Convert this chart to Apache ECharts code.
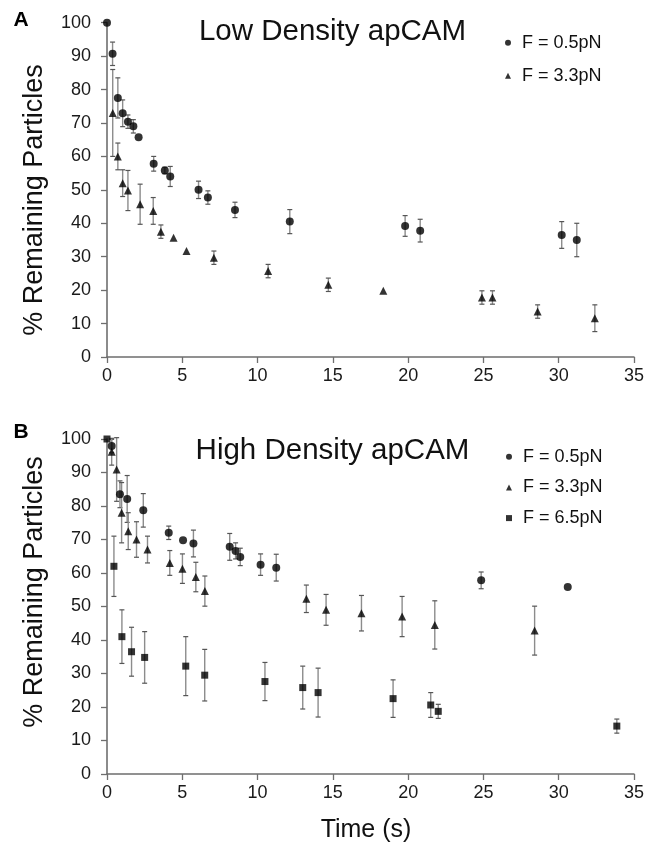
<!DOCTYPE html>
<html>
<head>
<meta charset="utf-8">
<script src="https://cdn.jsdelivr.net/npm/echarts@6/dist/echarts.min.js"></script>
<style>
  html, body { margin: 0; padding: 0; background: #fff; }
  #chart { width: 647px; height: 852px; }
</style>
</head>
<body>
<div id="chart"></div>
<script>
// Panel A - low density apCAM
const aLowT = [0, 0.37, 0.72, 1.04, 1.39, 1.75, 2.1, 3.1, 3.84, 4.2, 6.08, 6.7, 8.5, 12.14, 19.8, 20.8, 30.2, 31.2];
const aLowV = [100, 90.7, 77.5, 72.9, 70.4, 69, 65.7, 57.8, 55.8, 54, 50, 47.7, 44, 40.5, 39.2, 37.8, 36.5, 35];
const aLowE = [0, 3.5, 6, 4, 2, 2, 0, 2.2, 1, 3, 2.6, 2, 2.3, 3.6, 3.1, 3.4, 4, 5];

const aMidT = [0.38, 0.72, 1.04, 1.39, 2.2, 3.07, 3.58, 4.42, 5.28, 7.1, 10.7, 14.7, 18.35, 24.9, 25.6, 28.6, 32.4];
const aMidV = [73, 60, 52, 49.8, 45.7, 43.7, 37.5, 35.7, 31.7, 29.7, 25.7, 21.6, 19.8, 17.8, 17.8, 13.6, 11.6];
const aMidE = [13, 4, 4, 6, 6, 4, 2, 0, 0, 2, 2, 2, 0, 2, 2, 2, 4];

// Panel B - high density apCAM
const bLowT = [0.31, 0.86, 1.34, 2.41, 4.1, 5.05, 5.74, 8.15, 8.54, 8.85, 10.2, 11.24, 24.85, 30.6];
const bLowV = [97.9, 83.5, 82.1, 78.7, 72, 69.8, 68.8, 67.8, 66.6, 64.8, 62.5, 61.6, 57.8, 55.8];
const bLowE = [2, 4, 7, 5, 2, 0, 4, 4, 2.4, 2.6, 3.2, 4, 2.5, 0];

const bMidT = [0.31, 0.64, 0.97, 1.41, 1.96, 2.69, 4.17, 5.01, 5.9, 6.5, 13.24, 14.55, 16.9, 19.6, 21.77, 28.4];
const bMidV = [96.2, 90.9, 78, 72.5, 70, 67, 63, 61.3, 58.8, 54.6, 52.3, 49, 48, 47, 44.5, 42.8];
const bMidE = [4, 9.5, 9, 5.5, 5.3, 4, 3.7, 4.4, 4.4, 4.5, 4.1, 4.6, 5.3, 6, 7.2, 7.3];

const bHighT = [0, 0.46, 0.99, 1.63, 2.5, 5.23, 6.49, 10.49, 13, 14.02, 19.0, 21.5, 22.0, 33.86];
const bHighV = [100, 62, 41, 36.5, 34.8, 32.2, 29.5, 27.6, 25.8, 24.3, 22.5, 20.6, 18.7, 14.3];
const bHighE = [0, 9, 8, 7.3, 7.7, 8.8, 7.7, 5.7, 6.4, 7.3, 5.6, 3.7, 2.1, 2.1];

const FONT = '"Liberation Sans", Arial, sans-serif';

function pts(t, v) { return t.map((x, i) => [x, v[i]]); }
function errs(t, v, e) { return t.map((x, i) => [x, v[i], e[i]]); }

function errRender(params, api) {
    const e = api.value(2);
    if (!e) return null;
    const x = api.value(0), y = api.value(1);
    const top = api.coord([x, y + e]);
    const bot = api.coord([x, y - e]);
    const w = 2.5;
    return {
        type: 'group',
        children: [
            { type: 'line', shape: { x1: top[0], y1: top[1], x2: bot[0], y2: bot[1] }, style: { stroke: '#8c8c8c', lineWidth: 1.4 } },
            { type: 'line', shape: { x1: top[0] - w, y1: top[1], x2: top[0] + w, y2: top[1] }, style: { stroke: '#555', lineWidth: 1.2 } },
            { type: 'line', shape: { x1: bot[0] - w, y1: bot[1], x2: bot[0] + w, y2: bot[1] }, style: { stroke: '#555', lineWidth: 1.2 } }
        ]
    };
}

function errSeries(name, idx, data) {
    return { name: name, type: 'custom', xAxisIndex: idx, yAxisIndex: idx, renderItem: errRender, data: data, z: 1, silent: true };
}
function dotSeries(name, idx, symbol, size, data) {
    return { name: name, type: 'scatter', xAxisIndex: idx, yAxisIndex: idx, symbol: symbol, symbolSize: size,
             itemStyle: { color: '#000' }, data: data, z: 3 };
}

function xAx(idx) {
    return {
        type: 'value', gridIndex: idx, min: 0, max: 35, interval: 5,
        axisLine: { show: true, onZero: false, lineStyle: { color: '#6e6e6e', width: 1.6 } },
        axisTick: { show: true, length: 6, lineStyle: { color: '#6e6e6e', width: 1.3 } },
        axisLabel: { fontSize: 18, color: '#1a1a1a', fontFamily: FONT, margin: 10 },
        splitLine: { show: false }
    };
}
function yAx(idx) {
    return {
        type: 'value', gridIndex: idx, min: 0, max: 100, interval: 10,
        axisLine: { show: true, onZero: false, lineStyle: { color: '#6e6e6e', width: 1.6 } },
        axisTick: { show: true, length: 6, lineStyle: { color: '#6e6e6e', width: 1.3 } },
        axisLabel: { fontSize: 18, color: '#1a1a1a', fontFamily: FONT, margin: 16 },
        splitLine: { show: false }
    };
}

function txt(text, x, y, size, opts) {
    return Object.assign({
        type: 'text', x: x, y: y,
        style: { text: text, fontSize: size, fontFamily: FONT, fill: '#111', align: 'center', verticalAlign: 'middle' }
    }, opts || {});
}

const chart = echarts.init(document.getElementById('chart'), null, { renderer: 'canvas' });

chart.setOption({
    animation: false,
    backgroundColor: '#fff',
    grid: [
        { left: 107, top: 22.7, width: 527, height: 334.3 },
        { left: 107, top: 439, width: 527, height: 335 }
    ],
    xAxis: [xAx(0), xAx(1)],
    yAxis: [yAx(0), yAx(1)],
    legend: [
        {
            orient: 'vertical', left: 505, top: 33.7, padding: 0, itemGap: 15,
            itemWidth: 6, itemHeight: 6,
            textStyle: { fontSize: 18, fontFamily: FONT, color: '#111', padding: [0, 0, 0, 6] },
            data: [{ name: 'F = 0.5pN', icon: 'circle' }, { name: 'F = 3.3pN', icon: 'triangle' }]
        },
        {
            orient: 'vertical', left: 506, top: 447.7, padding: 0, itemGap: 12.7,
            itemWidth: 6, itemHeight: 6,
            textStyle: { fontSize: 18, fontFamily: FONT, color: '#111', padding: [0, 0, 0, 6] },
            data: [{ name: 'F = 0.5pN', icon: 'circle' }, { name: 'F = 3.3pN', icon: 'triangle' }, { name: 'F = 6.5pN', icon: 'rect' }]
        }
    ],
    graphic: [
        txt('A', 21, 20, 20, { style: { text: 'A', fontSize: 21, fontWeight: 'bold', fontFamily: FONT, fill: '#000', align: 'center', verticalAlign: 'middle' } }),
        txt('B', 21, 432, 20, { style: { text: 'B', fontSize: 21, fontWeight: 'bold', fontFamily: FONT, fill: '#000', align: 'center', verticalAlign: 'middle' } }),
        txt('Low Density apCAM', 332.5, 32, 29.5),
        txt('High Density apCAM', 332.5, 451, 29.5),
        txt('% Remaining Particles', 35, 200, 27, { rotation: Math.PI / 2 }),
        txt('% Remaining Particles', 35, 592, 27, { rotation: Math.PI / 2 }),
        txt('Time (s)', 366, 830, 25)
    ],
    series: [
        errSeries('errA1', 0, errs(aLowT, aLowV, aLowE)),
        errSeries('errA2', 0, errs(aMidT, aMidV, aMidE)),
        dotSeries('F = 0.5pN', 0, 'circle', 8, pts(aLowT, aLowV)),
        dotSeries('F = 3.3pN', 0, 'triangle', 8, pts(aMidT, aMidV)),
        errSeries('errB1', 1, errs(bLowT, bLowV, bLowE)),
        errSeries('errB2', 1, errs(bMidT, bMidV, bMidE)),
        errSeries('errB3', 1, errs(bHighT, bHighV, bHighE)),
        dotSeries('F = 0.5pN', 1, 'circle', 8, pts(bLowT, bLowV)),
        dotSeries('F = 3.3pN', 1, 'triangle', 8, pts(bMidT, bMidV)),
        dotSeries('F = 6.5pN', 1, 'rect', 7, pts(bHighT, bHighV))
    ]
});
</script>
</body>
</html>
